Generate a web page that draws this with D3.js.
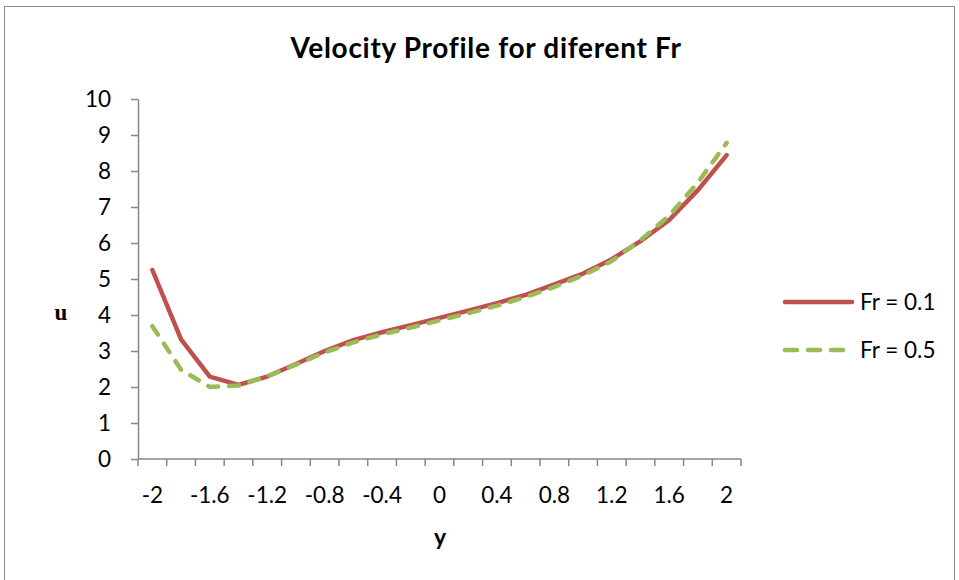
<!DOCTYPE html>
<html>
<head>
<meta charset="utf-8">
<script src="https://cdn.jsdelivr.net/npm/d3@7"></script>
<style>
  html, body { margin: 0; padding: 0; background: #fff; }
  svg { display: block; font-family: Lato, "Open Sans", sans-serif; }
</style>
</head>
<body>
<svg id="chart" width="959" height="580"></svg>
<script>
// Positions across the channel (category axis)
const yPositions = [-2, -1.8, -1.6, -1.4, -1.2, -1, -0.8, -0.6, -0.4, -0.2, 0,
                    0.2, 0.4, 0.6, 0.8, 1, 1.2, 1.4, 1.6, 1.8, 2];
// Velocity u for each Froude number
const uFr01 = [5.25, 3.32, 2.29, 2.06, 2.29, 2.64, 3.0, 3.3, 3.52, 3.72, 3.92,
               4.12, 4.33, 4.56, 4.85, 5.15, 5.55, 6.05, 6.64, 7.47, 8.44];
const uFr05 = [3.69, 2.48, 2.0, 2.04, 2.3, 2.62, 2.96, 3.24, 3.46, 3.65, 3.85,
               4.05, 4.26, 4.5, 4.78, 5.1, 5.5, 6.08, 6.76, 7.68, 8.78];
const seriesNames = ["Fr = 0.1", "Fr = 0.5"];
const yTickValues = [0, 1, 2, 3, 4, 5, 6, 7, 8, 9, 10];
const xLabelEvery = 2;

const svg = d3.select("#chart");
const axisColor = "#868686";
const colors = ["#C0504D", "#9BBB59"];
const labelSize = 22.5;

// Chart border
svg.append("rect")
  .attr("x", 4.5).attr("y", 6.5).attr("width", 950).attr("height", 620)
  .attr("fill", "#fff").attr("stroke", "#8c8c8c").attr("stroke-width", 1);

const plot = { left: 138, right: 741, top: 99, bottom: 459 };

const x = d3.scaleBand().domain(d3.range(yPositions.length))
  .range([plot.left, plot.right]).paddingInner(0).paddingOuter(0);
const y = d3.scaleLinear().domain([0, 10]).range([plot.bottom, plot.top]);
const cx = i => x(i) + x.bandwidth() / 2;

// Y axis
const yAxis = svg.append("g").attr("transform", `translate(${plot.left},0)`)
  .call(d3.axisLeft(y).tickValues(yTickValues).tickSize(7).tickPadding(20).tickSizeOuter(0));
yAxis.select(".domain").attr("stroke", axisColor).attr("stroke-width", 1.5);
yAxis.selectAll(".tick line").attr("stroke", axisColor).attr("stroke-width", 1.5);
yAxis.selectAll(".tick text").attr("font-size", labelSize).attr("fill", "#000")
  .attr("font-family", "Lato, sans-serif");

// X axis: tick marks on category boundaries, labels on every other category
const xg = svg.append("g").attr("transform", `translate(0,${plot.bottom})`);
xg.append("line").attr("x1", plot.left).attr("x2", plot.right)
  .attr("stroke", axisColor).attr("stroke-width", 1.5);
xg.selectAll("line.tk").data(d3.range(yPositions.length + 1)).join("line")
  .attr("class", "tk")
  .attr("x1", i => plot.left + i * x.bandwidth()).attr("x2", i => plot.left + i * x.bandwidth())
  .attr("y1", 0).attr("y2", 7)
  .attr("stroke", axisColor).attr("stroke-width", 1.5);
xg.selectAll("text").data(d3.range(0, yPositions.length, xLabelEvery)).join("text")
  .attr("x", i => cx(i)).attr("y", 44)
  .attr("text-anchor", "middle").attr("font-size", labelSize).attr("fill", "#000")
  .text(i => String(yPositions[i]));

// Series lines
const line = d3.line().x((d, i) => cx(i)).y(d => y(d));
svg.append("path").datum(uFr01).attr("d", line)
  .attr("fill", "none").attr("stroke", colors[0]).attr("stroke-width", 4.5)
  .attr("stroke-linejoin", "round").attr("stroke-linecap", "round");
svg.append("path").datum(uFr05).attr("d", line)
  .attr("fill", "none").attr("stroke", colors[1]).attr("stroke-width", 4.5)
  .attr("stroke-linejoin", "round").attr("stroke-linecap", "round")
  .attr("stroke-dasharray", "10,11");

// Title and axis titles
svg.append("text").attr("x", 486).attr("y", 58).attr("text-anchor", "middle")
  .attr("font-size", 28).attr("font-weight", "bold").attr("fill", "#000")
  .attr("letter-spacing", 0.7)
  .text("Velocity Profile for diferent Fr");
svg.append("text").attr("x", 61).attr("y", 320).attr("text-anchor", "middle")
  .attr("font-size", 23).attr("font-weight", "bold").attr("fill", "#000")
  .attr("font-family", "'Liberation Serif', 'DejaVu Serif', serif")
  .text("u");
svg.append("text").attr("x", 440).attr("y", 545).attr("text-anchor", "middle")
  .attr("font-size", 23).attr("font-weight", "bold").attr("fill", "#000")
  .text("y");

// Legend
const legend = svg.append("g");
[0, 1].forEach(k => {
  const ly = 302 + k * 48;
  legend.append("line").attr("x1", 785).attr("x2", 852).attr("y1", ly).attr("y2", ly)
    .attr("stroke", colors[k]).attr("stroke-width", 4.5).attr("stroke-linecap", "round")
    .attr("stroke-dasharray", k === 1 ? "12,11" : null);
  legend.append("text").attr("x", 860).attr("y", ly + 8)
    .attr("font-size", labelSize).attr("fill", "#000").text(seriesNames[k]);
});
</script>
</body>
</html>
